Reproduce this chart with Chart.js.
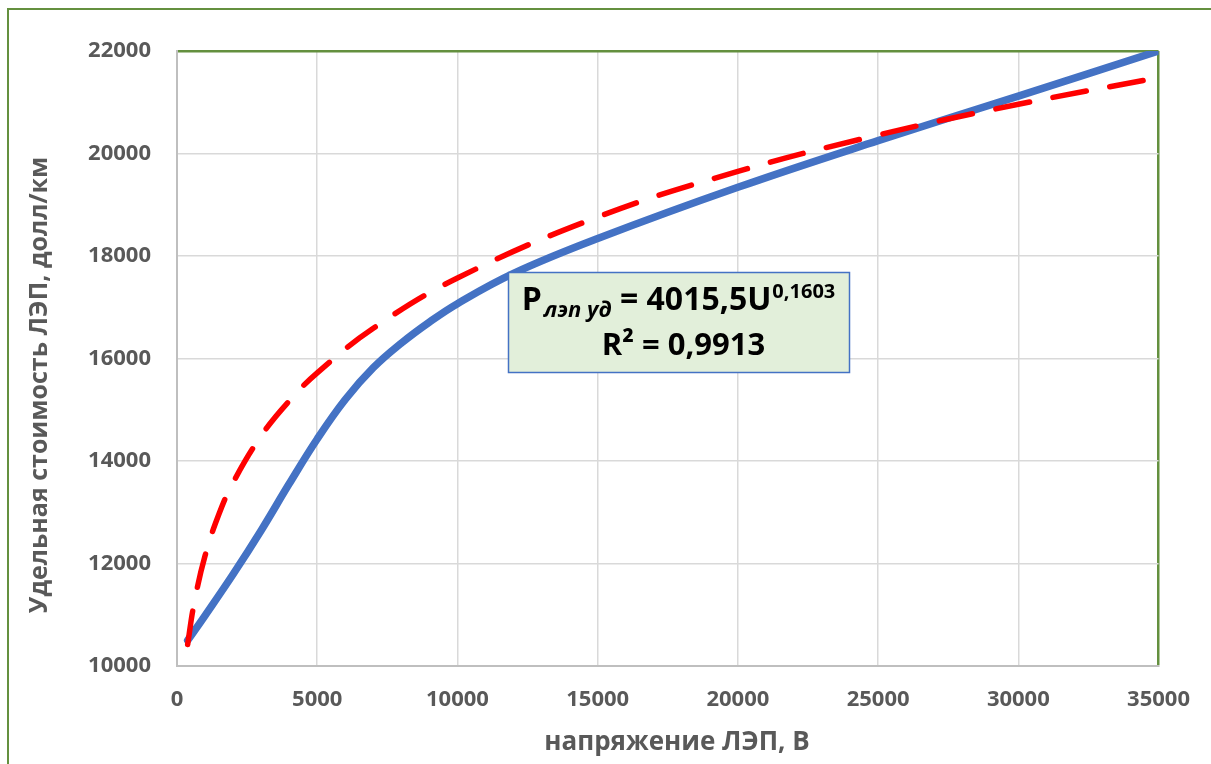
<!DOCTYPE html>
<html>
<head>
<meta charset="utf-8">
<script src="https://cdn.jsdelivr.net/npm/chart.js@4.4.1/dist/chart.umd.min.js"></script>
<style>
  body { margin: 0; background: #ffffff; }
  #wrap { width: 1211px; height: 764px; }
</style>
</head>
<body>
<div id="wrap"><canvas id="myChart" width="1211" height="764"></canvas></div>
<script>
//data
const voltage = [380, 1000, 2000, 3000, 4000, 5000, 6000, 7000, 8000, 9000, 10000, 12000, 15000, 20000, 25000, 30000, 35000];
const unitCost = [10500, 10985, 11790, 12645, 13555, 14430, 15200, 15820, 16300, 16710, 17070, 17660, 18340, 19340, 20250, 21120, 22000];

//power trend line (red dashed)
const trendVoltage = [380, 600, 1000, 1500, 2000, 3000, 4000, 5000, 7000, 10000, 15000, 20000, 25000, 30000, 35000];
const trendCost = [10420, 11190, 12150, 12970, 13580, 14490, 15170, 15720, 16590, 17570, 18760, 19650, 20360, 20960, 21480];

const xTicks = [0, 5000, 10000, 15000, 20000, 25000, 30000, 35000];
const yTicks = [10000, 12000, 14000, 16000, 18000, 20000, 22000];

const xTitle = 'напряжение ЛЭП, В';
const yTitle = 'Удельная стоимость ЛЭП, долл/км';
const eqMain = 'P';
const eqSub = 'лэп уд';
const eqMid = ' = 4015,5U';
const eqSup = '0,1603';
const r2Text = 'R² = 0,9913';

const green = '#64903f';
const gridGray = '#d9d9d9';
const textGray = '#595959';
const fontFam = '"Open Sans", "Liberation Sans", sans-serif';

const toPoints = (xs, ys) => xs.map((x, i) => ({ x: x, y: ys[i] }));

//frame, axis titles and the equation box
const decorPlugin = {
  id: 'decor',
  beforeDraw(chart) {
    const ctx = chart.ctx;
    ctx.save();
    ctx.fillStyle = '#ffffff';
    ctx.fillRect(0, 0, chart.width, chart.height);
    ctx.strokeStyle = green;
    ctx.lineWidth = 2;
    ctx.strokeRect(8, 9, 1400, 1000);
    ctx.restore();
  },
  afterDraw(chart) {
    const ctx = chart.ctx;
    ctx.save();
    ctx.fillStyle = textGray;
    ctx.font = 'bold 26px ' + fontFam;
    ctx.textAlign = 'center';
    ctx.textBaseline = 'middle';
    ctx.fillText(xTitle, 677, 743);
    ctx.font = 'bold 25px ' + fontFam;
    ctx.translate(40, 385);
    ctx.rotate(-Math.PI / 2);
    ctx.fillText(yTitle, 0, 0);
    ctx.restore();

    //equation box
    const bx = 508, by = 272, bw = 341, bh = 100;
    ctx.save();
    ctx.fillStyle = '#e2efda';
    ctx.fillRect(bx, by, bw, bh);
    ctx.strokeStyle = '#4472c4';
    ctx.lineWidth = 1.5;
    ctx.strokeRect(bx + 0.5, by + 0.5, bw, bh);
    ctx.fillStyle = '#000000';
    ctx.textBaseline = 'alphabetic';
    ctx.textAlign = 'left';
    const big = 'bold 32px ' + fontFam;
    const small = 'bold italic 22px ' + fontFam;
    const smallUp = 'bold 20px ' + fontFam;
    ctx.font = big; const w1 = ctx.measureText(eqMain).width; const w3 = ctx.measureText(eqMid).width;
    ctx.font = small; const w2 = ctx.measureText(eqSub).width;
    ctx.font = smallUp; const w4 = ctx.measureText(eqSup).width;
    const total = w1 + 2 + w2 + w3 + w4 + 1;
    let x = bx + bw / 2 - total / 2;
    const base1 = 310;
    ctx.font = big; ctx.fillText(eqMain, x, base1); x += w1 + 2;
    ctx.font = small; ctx.fillText(eqSub, x, base1 + 7); x += w2;
    ctx.font = big; ctx.fillText(eqMid, x, base1); x += w3 + 1;
    ctx.font = smallUp; ctx.fillText(eqSup, x, base1 - 12);
    ctx.font = 'bold 31px ' + fontFam;
    ctx.textAlign = 'center';
    ctx.fillText(r2Text, bx + bw / 2 + 5, 355);
    ctx.restore();
  }
};

let config = {
  type: 'scatter',
  data: {
    datasets: [{
      label: 'Удельная стоимость',
      data: toPoints(voltage, unitCost),
      showLine: true,
      borderColor: '#4472c4',
      borderWidth: 7.5,
      borderCapStyle: 'round',
      tension: 0.4,
      pointRadius: 0,
      order: 2
    }, {
      label: 'Степенная (тренд)',
      data: toPoints(trendVoltage, trendCost),
      showLine: true,
      borderColor: '#ff0000',
      borderWidth: 5.5,
      borderDash: [34, 24],
      borderCapStyle: 'round',
      tension: 0.4,
      pointRadius: 0,
      order: 1
    }]
  },
  options: {
    responsive: false,
    animation: false,
    layout: {
      padding: { left: 0, top: 51, right: 50, bottom: 0 }
    },
    scales: {
      x: {
        type: 'linear',
        min: 0,
        max: 35000,
        afterBuildTicks: s => { s.ticks = xTicks.map(v => ({ value: v })); },
        afterFit: s => { s.height = 98; },
        grid: {
          color: c => (c.tick && c.tick.value === 35000) ? green : gridGray,
          lineWidth: c => (c.tick && c.tick.value === 35000) ? 2.5 : 1.5,
          drawTicks: false
        },
        border: { color: '#bfbfbf', width: 2 },
        ticks: {
          color: textGray,
          padding: 21,
          maxRotation: 0,
          font: { family: fontFam, size: 22, weight: 'bold' },
          callback: v => String(v)
        }
      },
      y: {
        type: 'linear',
        min: 10000,
        max: 22000,
        afterBuildTicks: s => { s.ticks = yTicks.map(v => ({ value: v })); },
        afterFit: s => { s.width = 177; },
        grid: {
          color: c => (c.tick && c.tick.value === 22000) ? green : gridGray,
          lineWidth: c => (c.tick && c.tick.value === 22000) ? 2.5 : 1.5,
          drawTicks: false
        },
        border: { color: '#bfbfbf', width: 2 },
        ticks: {
          color: textGray,
          padding: 26,
          font: { family: fontFam, size: 22, weight: 'bold' },
          callback: v => String(v)
        }
      }
    },
    plugins: {
      legend: { display: false },
      tooltip: { enabled: false }
    }
  },
  plugins: [decorPlugin]
};

let newChart = new Chart(document.getElementById('myChart'), config);
</script>
</body>
</html>
